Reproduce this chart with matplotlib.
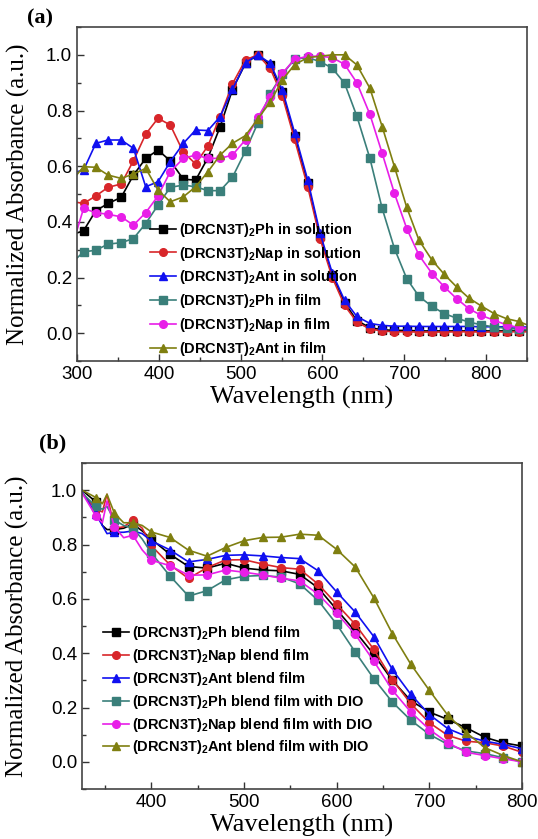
import matplotlib
matplotlib.use('Agg')
import matplotlib.pyplot as plt
from matplotlib.ticker import MultipleLocator

plt.rcParams['font.family'] = ['Liberation Sans', 'DejaVu Sans']
plt.rcParams['mathtext.fontset'] = 'custom'
plt.rcParams['mathtext.bf'] = 'Liberation Sans:bold'
plt.rcParams['mathtext.rm'] = 'Liberation Sans:bold'

# ---- panel (a): pure compounds, solution vs film ----
wl_a = [300, 308, 323, 338, 354, 369, 384, 399, 414, 430,
        445, 460, 475, 490, 506, 521, 536, 551, 566, 582,
        597, 612, 627, 642, 658, 673, 688, 703, 718, 734,
        749, 764, 779, 794, 810, 825, 840, 850]

ph_sol = [0.36, 0.368, 0.44, 0.466, 0.488, 0.568, 0.628, 0.658, 0.619, 0.553,
          0.55, 0.63, 0.742, 0.875, 0.97, 1.0, 0.965, 0.865, 0.71, 0.54,
          0.35, 0.21, 0.11, 0.045, 0.02, 0.012, 0.01, 0.01, 0.008, 0.008,
          0.008, 0.008, 0.008, 0.008, 0.008, 0.008, 0.008, 0.008]
nap_sol = [0.47, 0.466, 0.493, 0.524, 0.536, 0.62, 0.715, 0.772, 0.748, 0.65,
           0.608, 0.673, 0.778, 0.896, 0.982, 1.0, 0.952, 0.852, 0.696, 0.526,
           0.34, 0.20, 0.10, 0.04, 0.015, 0.008, 0.005, 0.005, 0.004, 0.004,
           0.004, 0.005, 0.005, 0.004, 0.004, 0.005, 0.005, 0.005]
ant_sol = [0.58, 0.586, 0.682, 0.694, 0.694, 0.664, 0.526, 0.544, 0.616, 0.682,
           0.73, 0.728, 0.778, 0.876, 0.972, 1.0, 0.97, 0.874, 0.72, 0.55,
           0.36, 0.216, 0.118, 0.06, 0.035, 0.028, 0.025, 0.025, 0.024, 0.024,
           0.024, 0.024, 0.024, 0.023, 0.023, 0.023, 0.022, 0.022]
ph_film = [0.27, 0.292, 0.298, 0.32, 0.325, 0.34, 0.394, 0.46, 0.524, 0.532,
           0.526, 0.512, 0.512, 0.56, 0.655, 0.755, 0.86, 0.93, 0.985, 0.99,
           0.976, 0.952, 0.898, 0.78, 0.628, 0.448, 0.304, 0.196, 0.132, 0.096,
           0.07, 0.054, 0.04, 0.03, 0.022, 0.018, 0.014, 0.012]
nap_film = [0.37, 0.448, 0.433, 0.427, 0.418, 0.388, 0.433, 0.493, 0.58, 0.628,
            0.64, 0.628, 0.628, 0.64, 0.695, 0.775, 0.85, 0.934, 0.984, 0.995,
            0.995, 0.99, 0.966, 0.90, 0.786, 0.646, 0.502, 0.376, 0.28, 0.214,
            0.166, 0.124, 0.088, 0.064, 0.046, 0.03, 0.02, 0.018]
ant_film = [0.57, 0.598, 0.596, 0.568, 0.556, 0.572, 0.592, 0.514, 0.472, 0.49,
            0.526, 0.58, 0.64, 0.682, 0.71, 0.77, 0.83, 0.91, 0.965, 0.99,
            0.995, 1.0, 1.0, 0.964, 0.88, 0.742, 0.598, 0.452, 0.334, 0.262,
            0.211, 0.166, 0.126, 0.098, 0.07, 0.052, 0.042, 0.03]

labels_a = ['(DRCN3T)$_2$Ph in solution', '(DRCN3T)$_2$Nap in solution',
            '(DRCN3T)$_2$Ant in solution', '(DRCN3T)$_2$Ph in film',
            '(DRCN3T)$_2$Nap in film', '(DRCN3T)$_2$Ant in film']

# ---- panel (b): blend films ----
wl_b = [325, 340, 347, 352, 360, 370, 380, 390, 400,
        420, 440, 460, 480, 500, 520, 540, 560, 580, 600,
        620, 640, 660, 680, 700, 720, 740, 760, 780, 800]

ph_blend = [1.0, 0.957, 0.87, 0.855, 0.855, 0.86, 0.875, 0.85, 0.819,
            0.764, 0.719, 0.713, 0.731, 0.713, 0.706, 0.703, 0.69, 0.64, 0.56,
            0.48, 0.395, 0.30, 0.225, 0.183, 0.156, 0.125, 0.09, 0.07, 0.058]
nap_blend = [0.99, 0.93, 0.92, 0.985, 0.86, 0.865, 0.89, 0.86, 0.795,
             0.725, 0.675, 0.715, 0.743, 0.744, 0.728, 0.715, 0.709, 0.654, 0.58,
             0.506, 0.414, 0.303, 0.214, 0.144, 0.097, 0.076, 0.07, 0.058, 0.035]
ant_blend = [0.995, 0.911, 0.87, 0.84, 0.845, 0.845, 0.85, 0.84, 0.813,
             0.78, 0.736, 0.745, 0.76, 0.762, 0.758, 0.752, 0.748, 0.703, 0.625,
             0.551, 0.461, 0.34, 0.248, 0.174, 0.122, 0.094, 0.076, 0.064, 0.048]
ph_dio = [0.99, 0.94, 0.93, 0.94, 0.89, 0.87, 0.86, 0.82, 0.768,
          0.684, 0.61, 0.63, 0.67, 0.683, 0.686, 0.68, 0.655, 0.594, 0.506,
          0.404, 0.306, 0.22, 0.153, 0.101, 0.064, 0.04, 0.03, 0.015, 0.0]
nap_dio = [0.99, 0.905, 0.88, 0.96, 0.865, 0.825, 0.834, 0.78, 0.742,
           0.722, 0.687, 0.688, 0.706, 0.698, 0.688, 0.676, 0.666, 0.617, 0.547,
           0.469, 0.371, 0.264, 0.183, 0.119, 0.07, 0.035, 0.023, 0.011, 0.0]
ant_dio = [1.0, 0.973, 0.95, 0.985, 0.915, 0.88, 0.88, 0.87, 0.846,
           0.826, 0.779, 0.757, 0.789, 0.814, 0.826, 0.827, 0.838, 0.834, 0.782,
           0.717, 0.604, 0.472, 0.359, 0.263, 0.171, 0.107, 0.052, 0.023, 0.0]

labels_b = ['(DRCN3T)$_2$Ph blend film', '(DRCN3T)$_2$Nap blend film',
            '(DRCN3T)$_2$Ant blend film', '(DRCN3T)$_2$Ph blend film with DIO',
            '(DRCN3T)$_2$Nap blend film with DIO', '(DRCN3T)$_2$Ant blend film with DIO']

colors = ['#000000', '#d8262a', '#1010f0', '#3a7f7a', '#e81ee8', '#7f7f10']
markers = ['s', 'o', '^', 's', 'o', '^']

fig = plt.figure(figsize=(5.38, 8.39), dpi=100)
ax1 = fig.add_axes([77/538, 1-361/839, 450/538, 334/839])
ax2 = fig.add_axes([82/538, 1-789/839, 440/538, 326/839])

mk_a = list(range(1, len(wl_a) - 1))
for ys, c, m, lab in zip([ph_sol, nap_sol, ant_sol, ph_film, nap_film, ant_film],
                         colors, markers, labels_a):
    ax1.plot(wl_a, ys, color=c, marker=m, markevery=mk_a, markersize=5.5,
             lw=1.2, label=lab)

mk_b = [1, 4, 6] + list(range(8, len(wl_b)))
for ys, c, m, lab in zip([ph_blend, nap_blend, ant_blend, ph_dio, nap_dio, ant_dio],
                         colors, markers, labels_b):
    ax2.plot(wl_b, ys, color=c, marker=m, markevery=mk_b, markersize=5.5,
             lw=1.2, label=lab)

ax1.set_xlim(300, 850)
ax2.set_xlim(325, 800)
ax1.xaxis.set_major_locator(MultipleLocator(100))
ax2.xaxis.set_major_locator(MultipleLocator(100))

for ax in (ax1, ax2):
    ax.set_ylim(-0.1, 1.1)
    ax.set_yticks([0.0, 0.2, 0.4, 0.6, 0.8, 1.0])
    ax.xaxis.set_minor_locator(MultipleLocator(50))
    ax.yaxis.set_minor_locator(MultipleLocator(0.1))
    ax.tick_params(which='both', direction='in', labelsize=13.5, width=1,
                   color='#333333')
    ax.tick_params(which='major', length=5)
    ax.tick_params(which='minor', length=3)
    for s in ax.spines.values():
        s.set_linewidth(1.2)
        s.set_color('#444444')
    ax.set_xlabel('Wavelength (nm)', family='Liberation Serif', fontsize=19,
                  labelpad=2)
    ax.set_ylabel('Normalized Absorbance (a.u.)', family='Liberation Serif',
                  fontsize=18)

ax1.yaxis.set_label_coords(-0.105, 0.5)
ax2.yaxis.set_label_coords(-0.12, 0.5)

leg_kw = dict(frameon=False, prop={'weight': 'bold', 'size': 10.5},
              handlelength=1.8, handletextpad=0.2, labelspacing=0.4,
              borderpad=0, borderaxespad=0, loc='upper left')
ax1.legend(bbox_to_anchor=(0.162, 0.42), **leg_kw)
leg_kw['labelspacing'] = 0.33
ax2.legend(bbox_to_anchor=(0.048, 0.505), **leg_kw)

fig.text(27/538, 1-18/839, '(a)', family='Liberation Serif', weight='bold',
         fontsize=16, va='center')
fig.text(39/538, 1-443/839, '(b)', family='Liberation Serif', weight='bold',
         fontsize=16, va='center')

fig.savefig('out.png', dpi=100)
